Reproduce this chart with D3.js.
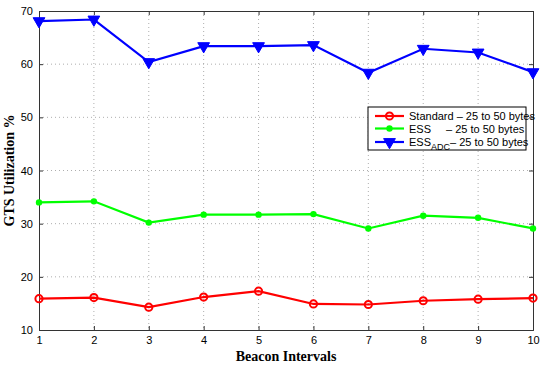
<!DOCTYPE html>
<html>
<head>
<meta charset="utf-8">
<script src="https://cdn.jsdelivr.net/npm/d3@7"></script>
<style>
body { margin: 0; background: #fff; }
.tick text { font-family: "Liberation Sans", Arial, sans-serif; font-size: 11px; fill: #000; }
.axis-title { font-family: "Liberation Serif", "Times New Roman", serif; font-weight: bold; font-size: 14px; }
.legend text { font-family: "Liberation Sans", Arial, sans-serif; font-size: 11px; }
</style>
</head>
<body>
<div id="chart"></div>
<script>
// beacon intervals on the x axis
var intervals = [1, 2, 3, 4, 5, 6, 7, 8, 9, 10];
// GTS utilization (%) per series
var standard = [15.9, 16.1, 14.3, 16.2, 17.3, 14.9, 14.8, 15.5, 15.8, 16.0];
var ess      = [34.0, 34.2, 30.2, 31.7, 31.7, 31.8, 29.1, 31.5, 31.1, 29.1];
var essAdc   = [68.1, 68.4, 60.4, 63.4, 63.4, 63.6, 58.4, 62.9, 62.2, 58.5];
var yTicks = [10, 20, 30, 40, 50, 60, 70];

var width = 550, height = 366;
var margin = {top: 11, right: 17, bottom: 36, left: 39};

var svg = d3.select("#chart").append("svg")
	.attr("width", width)
	.attr("height", height);

var x = d3.scaleLinear().domain([1, 10]).range([margin.left, width - margin.right]);
var y = d3.scaleLinear().domain([10, 70]).range([height - margin.bottom, margin.top]);

var x0 = x.range()[0], x1 = x.range()[1];
var y0 = y.range()[0], y1 = y.range()[1];

//. grid lines
var grid = svg.append("g");
grid.selectAll(".vg").data(intervals.slice(1, -1)).enter().append("line")
	.attr("x1", function(d){ return x(d); }).attr("x2", function(d){ return x(d); })
	.attr("y1", y1).attr("y2", y0)
	.attr("stroke", "#999").attr("stroke-width", 0.8).attr("stroke-dasharray", "1,3");
grid.selectAll(".hg").data(yTicks.slice(1, -1)).enter().append("line")
	.attr("y1", function(d){ return y(d); }).attr("y2", function(d){ return y(d); })
	.attr("x1", x0).attr("x2", x1)
	.attr("stroke", "#999").attr("stroke-width", 0.8).attr("stroke-dasharray", "1,3");

//. axes, ticks pointing inward (matlab style)
var xAxis = d3.axisBottom(x).tickValues(intervals).tickSize(-4).tickPadding(6).tickFormat(d3.format("d"));
var yAxis = d3.axisLeft(y).tickValues(yTicks).tickSize(-4).tickPadding(6).tickFormat(d3.format("d"));

var gx = svg.append("g").attr("transform", "translate(0," + y0 + ")").call(xAxis);
var gy = svg.append("g").attr("transform", "translate(" + x0 + ",0)").call(yAxis);
var gxTop = svg.append("g").attr("transform", "translate(0," + y1 + ")")
	.call(d3.axisTop(x).tickValues(intervals).tickSize(-4).tickFormat(""));
var gyRight = svg.append("g").attr("transform", "translate(" + x1 + ",0)")
	.call(d3.axisRight(y).tickValues(yTicks).tickSize(-4).tickFormat(""));

[gx, gy, gxTop, gyRight].forEach(function(g){
	g.select(".domain").attr("stroke", "#333").attr("stroke-width", 1);
	g.selectAll(".tick line").attr("stroke", "#333");
});

//. series
var series = [
	{name: "standard", values: standard, color: "#ff0000", marker: "circle-open"},
	{name: "ess", values: ess, color: "#00ff00", marker: "circle"},
	{name: "essAdc", values: essAdc, color: "#0000ff", marker: "triangle"}
];

var line = d3.line()
	.x(function(d, i){ return x(intervals[i]); })
	.y(function(d){ return y(d); });

var triangle = d3.symbol().type(d3.symbolTriangle).size(60);

function drawMarker(sel, s){
	if(s.marker == "triangle"){
		sel.append("path").attr("d", triangle())
			.attr("transform", "rotate(180)")
			.attr("fill", s.color).attr("stroke", s.color).attr("stroke-width", 1);
	}else if(s.marker == "circle"){
		sel.append("circle").attr("r", 3.2).attr("fill", s.color);
	}else{
		sel.append("circle").attr("r", 3.6).attr("fill", "none")
			.attr("stroke", s.color).attr("stroke-width", 2);
	}
}

series.forEach(function(s){
	svg.append("path").datum(s.values)
		.attr("d", line)
		.attr("fill", "none")
		.attr("stroke", s.color)
		.attr("stroke-width", 2.2);
	svg.selectAll(".pt-" + s.name).data(s.values).enter().append("g")
		.attr("class", "pt-" + s.name)
		.attr("transform", function(d, i){ return "translate(" + x(intervals[i]) + "," + y(d) + ")"; })
		.each(function(){ drawMarker(d3.select(this), s); });
});

//. axis titles
svg.append("text").attr("class", "axis-title")
	.attr("x", (x0 + x1) / 2).attr("y", 361)
	.attr("text-anchor", "middle")
	.text("Beacon Intervals");
svg.append("text").attr("class", "axis-title")
	.attr("transform", "translate(14," + ((y0 + y1) / 2) + ")rotate(-90)")
	.attr("text-anchor", "middle")
	.text("GTS Utilization %");

//. legend
var legend = svg.append("g").attr("class", "legend").attr("transform", "translate(368,107)");
legend.append("rect").attr("width", 158).attr("height", 43)
	.attr("fill", "#fff").attr("stroke", "#000").attr("stroke-width", 1);

var rowsY = [9, 21.5, 35];
series.forEach(function(s, i){
	var row = legend.append("g").attr("transform", "translate(0," + rowsY[i] + ")");
	row.append("line").attr("x1", 7).attr("x2", 36).attr("y1", 0).attr("y2", 0)
		.attr("stroke", s.color).attr("stroke-width", 2.2);
	drawMarker(row.append("g").attr("transform", "translate(21.5,0)"), s);
	var t = row.append("text").attr("x", 41).attr("y", 4);
	if(i == 0){
		t.text("Standard \u2013 25 to 50 bytes");
	}else if(i == 1){
		t.text("ESS");
		row.append("text").attr("x", 78).attr("y", 4).text("\u2013 25 to 50 bytes");
	}else{
		t.append("tspan").text("ESS");
		t.append("tspan").attr("dy", 4).attr("font-size", "9px").text("ADC");
		t.append("tspan").attr("dy", -4).text("\u2013 25 to 50 bytes");
	}
});
</script>
</body>
</html>
